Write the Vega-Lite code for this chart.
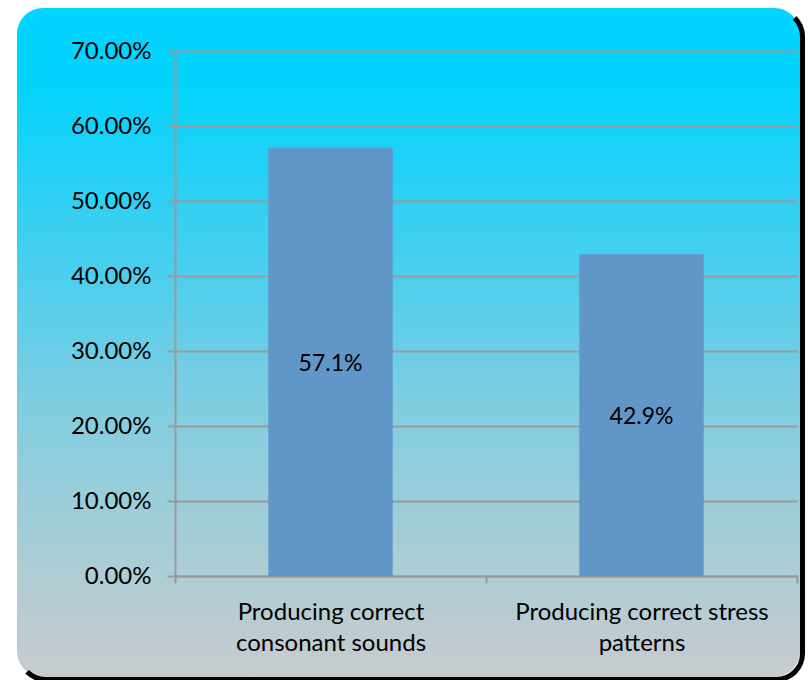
{
  "$schema": "https://vega.github.io/schema/vega-lite/v6.json",
  "width": 783,
  "height": 669,
  "autosize": {"type": "none"},
  "padding": {"left": 17, "top": 8, "right": 10, "bottom": 3},
  "background": "white",
  "view": {
    "stroke": null,
    "cornerRadius": 26,
    "fill": {
      "gradient": "linear",
      "x1": 0, "y1": 0, "x2": 0, "y2": 1,
      "stops": [
        {"offset": 0, "color": "#00d4ff"},
        {"offset": 0.12, "color": "#04d3fc"},
        {"offset": 0.35, "color": "#40cff0"},
        {"offset": 0.6, "color": "#82cde0"},
        {"offset": 0.82, "color": "#aacdd5"},
        {"offset": 1, "color": "#c8cbce"}
      ]
    }
  },
  "config": {
    "font": "Lato",
    "axis": {
      "labelFont": "Lato",
      "labelColor": "#000000",
      "labelFontSize": 24,
      "domainColor": "#9a9a9a",
      "domainWidth": 2,
      "tickColor": "#9a9a9a",
      "tickWidth": 2,
      "gridColor": "#9a9a9a",
      "gridWidth": 2,
      "title": null
    }
  },
  "data": {
    "values": [
      {"skill": "Producing correct consonant sounds", "share": 0.571},
      {"skill": "Producing correct stress patterns", "share": 0.429}
    ]
  },
  "layer": [
    {
      "data": {"values": [{}]},
      "mark": {
        "type": "rect",
        "fill": null,
        "stroke": "#000000",
        "strokeWidth": 5,
        "cornerRadius": 26,
        "strokeDash": [1430, 1430],
        "strokeDashOffset": 2109,
        "xOffset": 2.5, "x2Offset": 2.5,
        "yOffset": 2.5, "y2Offset": 2.5
      },
      "encoding": {
        "x": {"value": 0}, "x2": {"value": "width"},
        "y": {"value": 0}, "y2": {"value": "height"}
      }
    },
    {
      "mark": {"type": "bar", "fill": "#6196c8"},
      "encoding": {
        "x": {
          "field": "skill", "type": "nominal", "sort": null,
          "scale": {"range": [158, 780], "paddingInner": 0.6, "paddingOuter": 0.3},
          "axis": {
            "orient": "bottom",
            "offset": -101,
            "bandPosition": 2.5,
            "tickOffset": -93.3,
            "tickExtra": true,
            "labelOffset": 93.3,
            "tickSize": 7,
            "labelAngle": 0,
            "labelPadding": 17,
            "labelLineHeight": 31,
            "labelLimit": 500,
            "labelOverlap": false,
            "labelBaseline": "top",
            "labelExpr": "datum.label == 'Producing correct consonant sounds' ? ['Producing correct', 'consonant sounds'] : datum.label == 'Producing correct stress patterns' ? ['Producing correct stress', 'patterns'] : ''"
          }
        },
        "y": {
          "field": "share", "type": "quantitative",
          "scale": {"domain": [0, 0.7], "range": [568, 43], "nice": false},
          "axis": {
            "offset": -158,
            "values": [0, 0.1, 0.2, 0.3, 0.4, 0.5, 0.6, 0.7],
            "format": ".2%",
            "grid": true,
            "tickSize": 8,
            "labelPadding": 16
          }
        }
      }
    },
    {
      "mark": {"type": "text", "fontSize": 23, "color": "#000000", "baseline": "middle", "dy": 2},
      "encoding": {
        "x": {"field": "skill", "type": "nominal", "sort": null},
        "y": {"field": "share", "type": "quantitative", "stack": "zero", "bandPosition": 0.5},
        "text": {"field": "share", "type": "quantitative", "format": ".1%"}
      }
    }
  ]
}
